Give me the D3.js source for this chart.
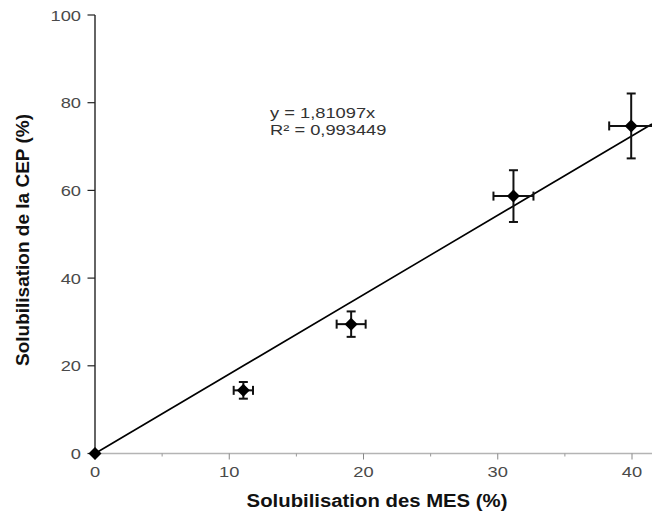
<!DOCTYPE html>
<html>
<head>
<meta charset="utf-8">
<script src="https://cdn.jsdelivr.net/npm/d3@7"></script>
<style>
  html, body { margin: 0; padding: 0; background: #fff; }
  svg { display: block; }
  text { font-family: "Liberation Sans", Arial, sans-serif; }
</style>
</head>
<body>
<svg id="chart" width="652" height="517"></svg>
<script>
// Solubilisation of MES (x) vs CEP (y), mean ± standard deviation
const mesPct = [0, 11.05, 19.08, 31.17, 39.94];
const cepPct = [0, 14.4, 29.5, 58.7, 74.7];
const mesErr = [0, 0.72, 1.08, 1.49, 1.64];
const cepErr = [0, 1.9, 2.9, 5.9, 7.4];

// Linear fit through the origin
const slope = 1.81097;
const rSquared = "0,993449";
const equationLines = ["y = 1,81097x", "R² = " + rSquared];

const xMajorTicks = [0, 10, 20, 30, 40];
const xMinorTicks = [5, 15, 25, 35];
const yTicks = [0, 20, 40, 60, 80, 100];

const xTitle = "Solubilisation des MES (%)";
const yTitle = "Solubilisation de la CEP (%)";

const W = 652, H = 517;
const svg = d3.select("#chart");

const x = d3.scaleLinear().domain([0, 40]).range([95, 632]);
const y = d3.scaleLinear().domain([0, 100]).range([453.5, 15]);
const xMaxVisible = x.invert(W);

// Horizontal text in this chart is slightly wide-set
const SX = 1.22;
function wideText(g, tx, ty, str, anchor, opts) {
  return g.append("text")
    .attr("transform", `translate(${tx},${ty}) scale(${opts.sx || SX},1)`)
    .attr("text-anchor", anchor)
    .attr("font-size", opts.size)
    .attr("font-weight", opts.weight || "normal")
    .attr("fill", opts.fill)
    .text(str);
}

// ---- X axis (light grey, ticks below) ----
const xAxisG = svg.append("g");
xAxisG.append("line")
  .attr("x1", x(0)).attr("x2", W)
  .attr("y1", y(0)).attr("y2", y(0))
  .attr("stroke", "#b4b4b4").attr("stroke-width", 1.5);
xAxisG.selectAll("line.major").data(xMajorTicks).join("line")
  .attr("class", "major")
  .attr("x1", d => x(d)).attr("x2", d => x(d))
  .attr("y1", y(0)).attr("y2", y(0) + 6)
  .attr("stroke", "#888").attr("stroke-width", 1);
xAxisG.selectAll("line.minor").data(xMinorTicks).join("line")
  .attr("class", "minor")
  .attr("x1", d => x(d)).attr("x2", d => x(d))
  .attr("y1", y(0)).attr("y2", y(0) + 3)
  .attr("stroke", "#999").attr("stroke-width", 1);
xMajorTicks.forEach(d => {
  wideText(xAxisG, x(d), y(0) + 23.5, d3.format("d")(d), "middle",
    { size: 15, fill: "#4a4a4a" });
});

// ---- Y axis (black, ticks to the left) ----
const yAxisG = svg.append("g");
yAxisG.append("line")
  .attr("x1", x(0)).attr("x2", x(0))
  .attr("y1", y(100)).attr("y2", y(0))
  .attr("stroke", "#111").attr("stroke-width", 1.3);
yAxisG.selectAll("line.tick").data(yTicks).join("line")
  .attr("class", "tick")
  .attr("x1", x(0) - 7.5).attr("x2", x(0))
  .attr("y1", d => y(d)).attr("y2", d => y(d))
  .attr("stroke", "#222").attr("stroke-width", 1.2);
yTicks.forEach(d => {
  wideText(yAxisG, x(0) - 14, y(d) + 5.5, d3.format("d")(d), "end",
    { size: 15, fill: "#4a4a4a" });
});

// ---- Axis titles ----
wideText(svg, 377, 507, xTitle, "middle",
  { size: 18, weight: "bold", fill: "#111", sx: 1.13 });
svg.append("text")
  .attr("transform", `translate(29,240) rotate(-90)`)
  .attr("text-anchor", "middle")
  .attr("font-size", 19)
  .attr("font-weight", "bold")
  .attr("fill", "#111")
  .text(yTitle);

// ---- Trend line ----
svg.append("line")
  .attr("x1", x(0)).attr("y1", y(0))
  .attr("x2", x(xMaxVisible)).attr("y2", y(slope * xMaxVisible))
  .attr("stroke", "#000").attr("stroke-width", 1.6);

// ---- Equation ----
equationLines.forEach((s, i) => {
  wideText(svg, 270, 118 + i * 17, s, "start", { size: 15, fill: "#333" });
});

// ---- Error bars ----
const pts = mesPct.map((m, i) => ({ m, c: cepPct[i], em: mesErr[i], ec: cepErr[i] }));
const cap = 4.5;
const eb = svg.append("g").attr("stroke", "#111").attr("stroke-width", 2).attr("fill", "none");
pts.filter(p => p.ec > 0).forEach(p => {
  const px = x(p.m), y1 = y(p.c - p.ec), y2 = y(p.c + p.ec);
  eb.append("line").attr("x1", px).attr("x2", px).attr("y1", y1).attr("y2", y2);
  eb.append("line").attr("x1", px - cap).attr("x2", px + cap).attr("y1", y1).attr("y2", y1);
  eb.append("line").attr("x1", px - cap).attr("x2", px + cap).attr("y1", y2).attr("y2", y2);
});
pts.filter(p => p.em > 0).forEach(p => {
  const py = y(p.c), x1 = x(p.m - p.em), x2 = x(p.m + p.em);
  eb.append("line").attr("x1", x1).attr("x2", x2).attr("y1", py).attr("y2", py);
  eb.append("line").attr("x1", x1).attr("x2", x1).attr("y1", py - cap).attr("y2", py + cap);
  eb.append("line").attr("x1", x2).attr("x2", x2).attr("y1", py - cap).attr("y2", py + cap);
});

// ---- Diamond markers ----
const r = 6.5;
svg.append("g").selectAll("path").data(pts).join("path")
  .attr("d", p => {
    const cx = x(p.m), cy = y(p.c);
    return `M${cx},${cy - r}L${cx + r},${cy}L${cx},${cy + r}L${cx - r},${cy}Z`;
  })
  .attr("fill", "#000");
</script>
</body>
</html>
